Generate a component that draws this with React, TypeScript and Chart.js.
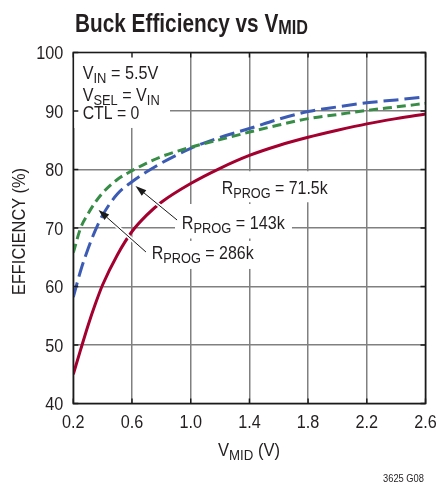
import React, { useEffect, useRef } from "react";
import { Chart, registerables } from "chart.js";

Chart.register(...registerables);

// ---- data ----
const vmid = [0.2, 0.25, 0.3, 0.35, 0.4, 0.5, 0.6, 0.7, 0.8, 1.0, 1.2, 1.4, 1.6, 1.8, 2.0, 2.2, 2.4, 2.6];
const eff71k5 = [45.0, 49.2, 53.3, 57.0, 60.3, 65.4, 69.4, 72.2, 74.4, 77.6, 80.2, 82.4, 84.1, 85.5, 86.7, 87.8, 88.7, 89.5];
const eff143k = [58.2, 62.7, 66.4, 69.6, 72.2, 75.8, 77.9, 79.6, 81.1, 83.6, 85.5, 87.0, 88.6, 89.9, 90.7, 91.4, 91.9, 92.4];
const eff286k = [65.8, 70.0, 72.4, 74.4, 76.0, 78.3, 79.8, 81.1, 82.2, 83.8, 85.1, 86.4, 87.6, 88.7, 89.4, 90.1, 90.7, 91.3];

const xTicks = [0.2, 0.6, 1.0, 1.4, 1.8, 2.2, 2.6];
const yTicks = [40, 50, 60, 70, 80, 90, 100];
const xTickLabels = ["0.2", "0.6", "1.0", "1.4", "1.8", "2.2", "2.6"];
const yTickLabels = ["40", "50", "60", "70", "80", "90", "100"];

const FONT = '"Liberation Sans", Arial, Helvetica, sans-serif';
const TEXT = "#231f20";
const RED = "#a3002f";
const BLUE = "#3b5bb5";
const GREEN = "#378c46";
const GRID = "#808080";

type Run = { t: string; sub?: boolean };

function drawRich(
  ctx: CanvasRenderingContext2D,
  runs: Run[],
  x: number,
  y: number,
  size: number,
  o: {
    bold?: boolean;
    align?: "left" | "center" | "right";
    width?: number;
    sx?: number;
    rot?: boolean;
    subScale?: number;
    subDrop?: number;
    color?: string;
  } = {}
) {
  const subScale = o.subScale ?? 0.8;
  const subDrop = o.subDrop ?? 0.2;
  const w = o.bold ? "bold " : "";
  const fMain = `${w}${size}px ${FONT}`;
  const fSub = `${w}${(size * subScale).toFixed(2)}px ${FONT}`;
  const widths: number[] = [];
  let total = 0;
  for (const r of runs) {
    ctx.font = r.sub ? fSub : fMain;
    const m = ctx.measureText(r.t).width;
    widths.push(m);
    total += m;
  }
  const sx = o.width ? o.width / total : o.sx ?? 1;
  const align = o.align ?? "left";
  ctx.save();
  ctx.translate(x, y);
  if (o.rot) ctx.rotate(-Math.PI / 2);
  ctx.scale(sx, 1);
  let cx = align === "center" ? -total / 2 : align === "right" ? -total : 0;
  ctx.fillStyle = o.color ?? TEXT;
  ctx.textBaseline = "alphabetic";
  ctx.textAlign = "left";
  runs.forEach((r, i) => {
    ctx.font = r.sub ? fSub : fMain;
    ctx.fillText(r.t, cx, r.sub ? size * subDrop : 0);
    cx += widths[i];
  });
  ctx.restore();
}

// annotation layout (data units: [V, %])
const boxes = [
  [0.2, 100, 0.859, 87.1],
  [1.172, 79.7, 1.976, 74.4],
  [0.893, 74.1, 1.69, 68.2],
  [0.695, 67.8, 1.458, 63.0],
];
const arrows = [
  [0.907, 71.37, 0.624, 77.18],
  [0.695, 65.9, 0.372, 73.08],
];

const decor = {
  id: "decor",
  beforeDatasetsDraw(chart: any) {
    const ctx = chart.ctx as CanvasRenderingContext2D;
    const xs = chart.scales.x;
    const ys = chart.scales.y;
    ctx.save();
    ctx.fillStyle = "#ffffff";
    for (const b of boxes) {
      const x1 = xs.getPixelForValue(b[0]);
      const y1 = ys.getPixelForValue(b[1]);
      const x2 = xs.getPixelForValue(b[2]);
      const y2 = ys.getPixelForValue(b[3]);
      ctx.fillRect(x1, y1, x2 - x1, y2 - y1);
    }
    ctx.restore();
  },
  afterDatasetsDraw(chart: any) {
    const ctx = chart.ctx as CanvasRenderingContext2D;
    const xs = chart.scales.x;
    const ys = chart.scales.y;
    const a = chart.chartArea;
    const P = (v: number, e: number) => [xs.getPixelForValue(v), ys.getPixelForValue(e)];

    // border and inner ticks
    ctx.save();
    ctx.strokeStyle = "#1a1a1a";
    ctx.lineWidth = 1.6;
    ctx.strokeRect(a.left, a.top, a.right - a.left, a.bottom - a.top);
    ctx.lineWidth = 1.4;
    ctx.beginPath();
    for (const v of xTicks) {
      const px = xs.getPixelForValue(v);
      ctx.moveTo(px, a.top);
      ctx.lineTo(px, a.top + 5);
      ctx.moveTo(px, a.bottom);
      ctx.lineTo(px, a.bottom - 5);
    }
    for (const v of yTicks) {
      const py = ys.getPixelForValue(v);
      ctx.moveTo(a.left, py);
      ctx.lineTo(a.left + 5, py);
      ctx.moveTo(a.right, py);
      ctx.lineTo(a.right - 5, py);
    }
    ctx.stroke();
    ctx.restore();

    // arrows
    for (const ar of arrows) {
      const [sx, sy] = P(ar[0], ar[1]);
      const [tx, ty] = P(ar[2], ar[3]);
      const ang = Math.atan2(ty - sy, tx - sx);
      const hl = 11;
      const hw = 3.6;
      const bx = tx - hl * Math.cos(ang);
      const by = ty - hl * Math.sin(ang);
      ctx.save();
      ctx.lineCap = "butt";
      ctx.strokeStyle = "#ffffff";
      ctx.lineWidth = 4;
      ctx.beginPath();
      ctx.moveTo(sx, sy);
      ctx.lineTo(bx, by);
      ctx.stroke();
      ctx.strokeStyle = "#1a1a1a";
      ctx.lineWidth = 1;
      ctx.beginPath();
      ctx.moveTo(sx, sy);
      ctx.lineTo(bx, by);
      ctx.stroke();
      ctx.fillStyle = "#1a1a1a";
      ctx.beginPath();
      ctx.moveTo(tx, ty);
      ctx.lineTo(bx + hw * Math.sin(ang), by - hw * Math.cos(ang));
      ctx.lineTo(bx - hw * Math.sin(ang), by + hw * Math.cos(ang));
      ctx.closePath();
      ctx.fill();
      ctx.restore();
    }

    // annotation text
    let p = P(1.211, 75.81);
    drawRich(ctx, [{ t: "R" }, { t: "PROG", sub: true }, { t: " = 71.5k" }], p[0], p[1], 19, { width: 106 });
    p = P(0.939, 69.78);
    drawRich(ctx, [{ t: "R" }, { t: "PROG", sub: true }, { t: " = 143k" }], p[0], p[1], 19, { width: 103 });
    p = P(0.734, 64.65);
    drawRich(ctx, [{ t: "R" }, { t: "PROG", sub: true }, { t: " = 286k" }], p[0], p[1], 19, { width: 102 });
    p = P(0.264, 95.42);
    drawRich(ctx, [{ t: "V" }, { t: "IN", sub: true }, { t: " = 5.5V" }], p[0], p[1], 18.5, { width: 75.6 });
    p = P(0.264, 91.71);
    drawRich(ctx, [{ t: "V" }, { t: "SEL", sub: true }, { t: " = V" }, { t: "IN", sub: true }], p[0], p[1], 18.5, { width: 77 });
    p = P(0.264, 88.58);
    drawRich(ctx, [{ t: "CTL = 0" }], p[0], p[1], 18.5, { width: 56.6 });

    // tick labels
    xTicks.forEach((v, i) => {
      drawRich(ctx, [{ t: xTickLabels[i] }], xs.getPixelForValue(v), a.bottom + 24.5, 18, { align: "center", sx: 0.9 });
    });
    yTicks.forEach((v, i) => {
      drawRich(ctx, [{ t: yTickLabels[i] }], a.left - 10, ys.getPixelForValue(v) + 6.5, 18, { align: "right", sx: 0.9 });
    });

    // titles
    drawRich(ctx, [{ t: "Buck Efficiency vs V" }, { t: "MID", sub: true }], 75, 31.7, 26, {
      bold: true,
      width: 233,
      subScale: 0.78,
      subDrop: 0.1,
    });
    drawRich(ctx, [{ t: "V" }, { t: "MID", sub: true }, { t: " (V)" }], 249, 456, 19, { align: "center", width: 62 });
    drawRich(ctx, [{ t: "EFFICIENCY (%)" }], 24.8, 231.5, 17.5, { align: "center", width: 127, rot: true });
    drawRich(ctx, [{ t: "3625 G08" }], 424, 482, 11, { align: "right", width: 41 });
  },
};

export default function App() {
  const ref = useRef<HTMLCanvasElement>(null);
  useEffect(() => {
    const mk = (arr: number[]) => vmid.map((x, i) => ({ x, y: arr[i] }));
    const chart = new Chart(ref.current as HTMLCanvasElement, {
      type: "line",
      data: {
        datasets: [
          {
            label: "RPROG = 71.5k",
            data: mk(eff71k5),
            borderColor: RED,
            borderWidth: 3,
            pointRadius: 0,
            cubicInterpolationMode: "monotone",
            fill: false,
          },
          {
            label: "RPROG = 286k",
            data: mk(eff286k),
            borderColor: GREEN,
            borderWidth: 3,
            borderDash: [9, 5],
            pointRadius: 0,
            cubicInterpolationMode: "monotone",
            fill: false,
          },
          {
            label: "RPROG = 143k",
            data: mk(eff143k),
            borderColor: BLUE,
            borderWidth: 3,
            borderDash: [15, 6],
            pointRadius: 0,
            cubicInterpolationMode: "monotone",
            fill: false,
          },
        ],
      } as any,
      options: {
        animation: false,
        responsive: true,
        maintainAspectRatio: false,
        layout: { padding: { left: 0, top: 52.5, right: 11.5, bottom: 53.5 } },
        plugins: { legend: { display: false }, tooltip: { enabled: false }, title: { display: false } },
        scales: {
          x: {
            type: "linear",
            min: 0.2,
            max: 2.6,
            afterBuildTicks: (s: any) => {
              s.ticks = xTicks.map((value) => ({ value }));
            },
            afterFit: (s: any) => {
              s.height = 30;
            },
            grid: { color: GRID, lineWidth: 1.5, drawTicks: false },
            border: { display: false },
            ticks: { display: false },
          },
          y: {
            type: "linear",
            min: 40,
            max: 100,
            afterBuildTicks: (s: any) => {
              s.ticks = yTicks.map((value) => ({ value }));
            },
            afterFit: (s: any) => {
              s.width = 73.3;
            },
            grid: { color: GRID, lineWidth: 1.5, drawTicks: false },
            border: { display: false },
            ticks: { display: false },
          },
        },
      } as any,
      plugins: [decor],
    });
    return () => chart.destroy();
  }, []);
  return (
    <div style={{ position: "fixed", left: 0, top: 0, width: 437, height: 487, background: "#ffffff" }}>
      <canvas ref={ref} />
    </div>
  );
}
